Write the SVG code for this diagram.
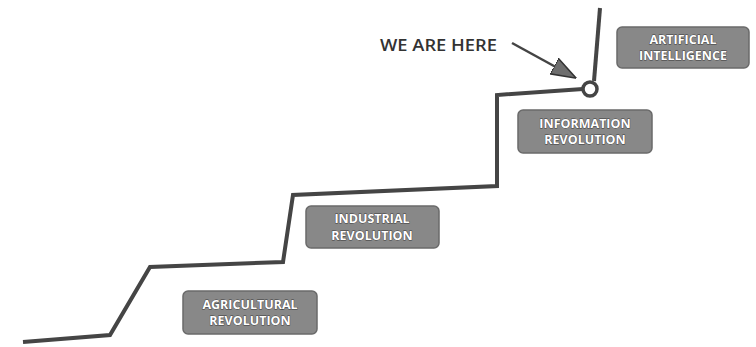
<svg xmlns="http://www.w3.org/2000/svg" width="756" height="347" viewBox="0 0 756 347">
  <defs>
    <marker id="head" viewBox="0 0 10 10" refX="9" refY="5" markerWidth="10" markerHeight="10" markerUnits="strokeWidth" orient="auto">
      <path d="M0,1.5 L10,5 L0,8.5 z" fill="#6e6e6e" stroke="#333" stroke-width="0.6"/>
    </marker>
  </defs>
  <style>
    .box { fill: #888888; stroke: #6a6a6a; stroke-width: 1.5; }
    .lbl { font-family: "Open Sans", "Liberation Sans", sans-serif; font-weight: 700; font-size: 12.5px; fill: #ffffff; stroke: #3a3a3a; stroke-width: 0.8; paint-order: stroke; text-anchor: middle; }
    .step { fill: none; stroke: #454545; stroke-width: 4; stroke-linejoin: miter; stroke-linecap: butt; }
    .note { font-family: "Open Sans", "Liberation Sans", sans-serif; font-weight: 600; font-size: 16px; fill: #333; }
  </style>
  <rect width="756" height="347" fill="#ffffff"/>

  <g id="connectors">
    <!-- the staircase of progress -->
    <polyline class="step" points="23,342 110,335 150,267 283,262 293,195 497,186 497,95 583,89"/>
    <line class="step" x1="594" y1="81" x2="600" y2="8"/>
    <circle cx="590" cy="89" r="7" fill="#ffffff" stroke="#454545" stroke-width="3.5"/>
    <!-- pointer -->
    <line x1="512" y1="43" x2="574" y2="77" stroke="#444" stroke-width="2.5" marker-end="url(#head)"/>
  </g>

  <g id="we-are-here">
    <text class="note" x="380" y="51" textLength="117" lengthAdjust="spacingAndGlyphs">WE ARE HERE</text>
  </g>

  <g id="artificial-intelligence">
    <rect class="box" x="617" y="27" width="132" height="41" rx="5"/>
    <text class="lbl" x="683" y="44">ARTIFICIAL</text>
    <text class="lbl" x="683" y="60">INTELLIGENCE</text>
  </g>

  <g id="information-revolution">
    <rect class="box" x="518" y="110" width="134" height="43" rx="5"/>
    <text class="lbl" x="585" y="128">INFORMATION</text>
    <text class="lbl" x="585" y="144">REVOLUTION</text>
  </g>

  <g id="industrial-revolution">
    <rect class="box" x="306" y="206" width="133" height="42" rx="5"/>
    <text class="lbl" x="372" y="223">INDUSTRIAL</text>
    <text class="lbl" x="372" y="240">REVOLUTION</text>
  </g>

  <g id="agricultural-revolution">
    <rect class="box" x="183" y="291" width="134" height="43" rx="5"/>
    <text class="lbl" x="250" y="309">AGRICULTURAL</text>
    <text class="lbl" x="250" y="325">REVOLUTION</text>
  </g>
</svg>
